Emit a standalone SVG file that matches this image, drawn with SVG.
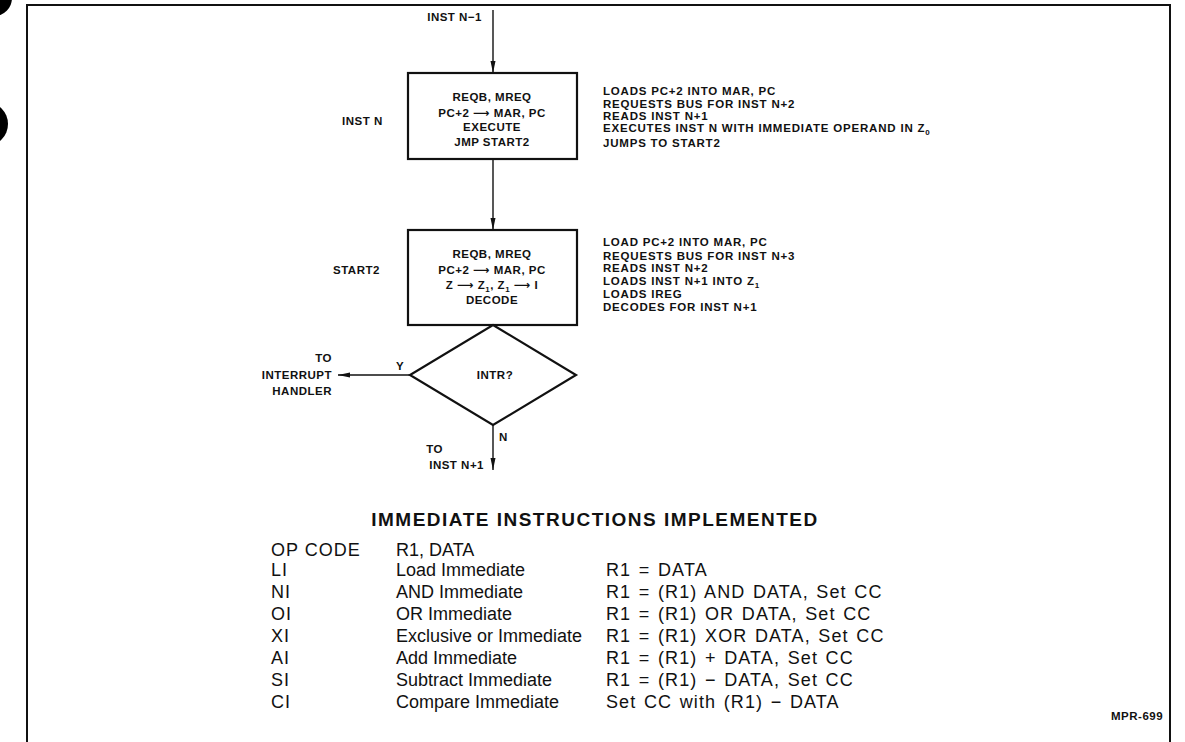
<svg xmlns="http://www.w3.org/2000/svg" width="1185" height="742" viewBox="0 0 1185 742">
<defs>
<style>
.lbl{font-family:"Liberation Sans",Arial,sans-serif;font-weight:bold;font-size:11.5px;letter-spacing:0.5px;fill:#111}
.nt{letter-spacing:0.8px}
.c{text-anchor:middle}
.e{text-anchor:end}
.ar{font-family:"DejaVu Sans",sans-serif;font-weight:bold}
.tbl{font-family:"Liberation Sans",Arial,sans-serif;font-size:18px;fill:#111}
.t1{letter-spacing:1px}
.t3{letter-spacing:1.1px;word-spacing:1.5px}
.ttl{font-family:"Liberation Sans",Arial,sans-serif;font-weight:bold;font-size:19px;letter-spacing:1.5px;fill:#111;text-anchor:middle}
.box{fill:#fff;stroke:#111;stroke-width:2.2}
.ln{fill:none;stroke:#111;stroke-width:1.4}
</style>
<marker id="ah" viewBox="0 0 12 6" refX="12" refY="3" markerWidth="12" markerHeight="6" markerUnits="userSpaceOnUse" orient="auto">
<path d="M0,0.5 L12,3 L0,5.5 Z" fill="#111"/>
</marker>
</defs>
<rect width="1185" height="742" fill="#fff"/>
<g id="scan-marks">
<circle cx="-6" cy="-2" r="18" fill="#000"/>
<circle cx="-14" cy="124" r="22" fill="#000"/>
</g>
<path id="frame" d="M27,742 V5 H1170 V742" fill="none" stroke="#111" stroke-width="2"/>
<g id="connectors">
<line class="ln" x1="493" y1="10" x2="493" y2="73" marker-end="url(#ah)"/>
<line class="ln" x1="493" y1="159" x2="493" y2="230" marker-end="url(#ah)"/>
<line class="ln" x1="410" y1="375" x2="338" y2="375" marker-end="url(#ah)"/>
<line class="ln" x1="493" y1="425" x2="493" y2="470" marker-end="url(#ah)"/>
</g>
<g id="label-inst-n-1"><text class="lbl e" x="482" y="21">INST N−1</text></g>
<g id="box-inst-n">
<rect class="box" x="408" y="73" width="169" height="86"/>
<text class="lbl c" x="492" y="101">REQB, MREQ</text>
<text class="lbl c" x="492" y="117">PC+2 <tspan class="ar">⟶</tspan> MAR, PC</text>
<text class="lbl c" x="492" y="131">EXECUTE</text>
<text class="lbl c" x="492" y="146">JMP START2</text>
</g>
<g id="label-inst-n"><text class="lbl" x="342" y="125">INST N</text></g>
<g id="notes-inst-n">
<text class="lbl nt" x="603" y="95">LOADS PC+2 INTO MAR, PC</text>
<text class="lbl nt" x="603" y="108">REQUESTS BUS FOR INST N+2</text>
<text class="lbl nt" x="603" y="120">READS INST N+1</text>
<text class="lbl nt" x="603" y="132">EXECUTES INST N WITH IMMEDIATE OPERAND IN Z<tspan font-size="8" dy="3">0</tspan></text>
<text class="lbl nt" x="603" y="147">JUMPS TO START2</text>
</g>
<g id="box-start2">
<rect class="box" x="408" y="230" width="169" height="95"/>
<text class="lbl c" x="492" y="258">REQB, MREQ</text>
<text class="lbl c" x="492" y="274">PC+2 <tspan class="ar">⟶</tspan> MAR, PC</text>
<text class="lbl c" x="492" y="289">Z <tspan class="ar">⟶</tspan> Z<tspan font-size="8" dy="3">1</tspan><tspan dy="-3">, Z</tspan><tspan font-size="8" dy="3">1</tspan><tspan dy="-3"> </tspan><tspan class="ar">⟶</tspan> I</text>
<text class="lbl c" x="492" y="304">DECODE</text>
</g>
<g id="label-start2"><text class="lbl" x="333" y="274">START2</text></g>
<g id="notes-start2">
<text class="lbl nt" x="603" y="246">LOAD PC+2 INTO MAR, PC</text>
<text class="lbl nt" x="603" y="260">REQUESTS BUS FOR INST N+3</text>
<text class="lbl nt" x="603" y="272">READS INST N+2</text>
<text class="lbl nt" x="603" y="285">LOADS INST N+1 INTO Z<tspan font-size="8" dy="3">1</tspan></text>
<text class="lbl nt" x="603" y="298">LOADS IREG</text>
<text class="lbl nt" x="603" y="311">DECODES FOR INST N+1</text>
</g>
<g id="decision-intr">
<polygon class="box" points="493,325 576,375 493,425 410,375"/>
<text class="lbl c" x="495" y="379">INTR?</text>
</g>
<g id="label-y"><text class="lbl" x="396" y="370">Y</text></g>
<g id="label-interrupt">
<text class="lbl e" x="332" y="362">TO</text>
<text class="lbl e" x="332" y="379">INTERRUPT</text>
<text class="lbl e" x="332" y="395">HANDLER</text>
</g>
<g id="label-n"><text class="lbl" x="499" y="441">N</text></g>
<g id="label-next">
<text class="lbl e" x="443" y="453">TO</text>
<text class="lbl e" x="484" y="469">INST N+1</text>
</g>
<g id="table">
<text class="ttl" x="595" y="526">IMMEDIATE INSTRUCTIONS IMPLEMENTED</text>
<text class="tbl t1" x="271" y="556">OP CODE</text><text class="tbl" x="396" y="556">R1, DATA</text>
<text class="tbl t1" x="271" y="576">LI</text><text class="tbl" x="396" y="576">Load Immediate</text><text class="tbl t3" x="606" y="576">R1 = DATA</text>
<text class="tbl t1" x="271" y="598">NI</text><text class="tbl" x="396" y="598">AND Immediate</text><text class="tbl t3" x="606" y="598">R1 = (R1) AND DATA, Set CC</text>
<text class="tbl t1" x="271" y="620">OI</text><text class="tbl" x="396" y="620">OR Immediate</text><text class="tbl t3" x="606" y="620">R1 = (R1) OR DATA, Set CC</text>
<text class="tbl t1" x="271" y="642">XI</text><text class="tbl" x="396" y="642">Exclusive or Immediate</text><text class="tbl t3" x="606" y="642">R1 = (R1) XOR DATA, Set CC</text>
<text class="tbl t1" x="271" y="664">AI</text><text class="tbl" x="396" y="664">Add Immediate</text><text class="tbl t3" x="606" y="664">R1 = (R1) + DATA, Set CC</text>
<text class="tbl t1" x="271" y="686">SI</text><text class="tbl" x="396" y="686">Subtract Immediate</text><text class="tbl t3" x="606" y="686">R1 = (R1) − DATA, Set CC</text>
<text class="tbl t1" x="271" y="708">CI</text><text class="tbl" x="396" y="708">Compare Immediate</text><text class="tbl t3" x="606" y="708">Set CC with (R1) − DATA</text>
</g>
<g id="code"><text class="lbl" x="1111" y="720" font-size="10" letter-spacing="0">MPR-699</text></g>
</svg>
